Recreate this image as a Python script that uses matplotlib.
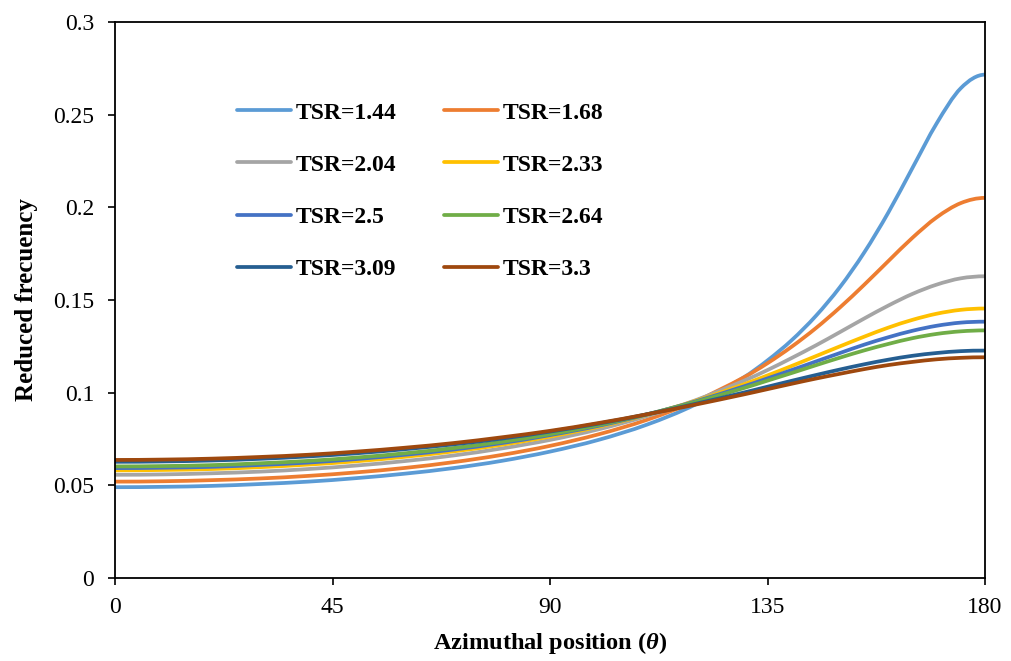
import numpy as np
import matplotlib
matplotlib.use("Agg")
import matplotlib.pyplot as plt
from matplotlib.path import Path
from matplotlib.patches import PathPatch
from matplotlib.lines import Line2D

plt.rcParams["font.family"] = ["Liberation Serif", "DejaVu Serif"]
plt.rcParams["mathtext.fontset"] = "custom"
plt.rcParams["mathtext.rm"] = "Liberation Serif"
plt.rcParams["mathtext.it"] = "Liberation Serif:italic"
plt.rcParams["mathtext.bf"] = "Liberation Serif:bold"
plt.rcParams["mathtext.bfit"] = "Liberation Serif:italic:bold"

# azimuthal positions (deg)
theta = [0, 10, 20, 30, 40, 50, 60, 70, 80, 90, 100, 110, 120, 130,
         135, 140, 145, 150, 155, 160, 165, 170, 175, 180]

# reduced frequency for each tip speed ratio
k_144 = [0.0490, 0.0492, 0.0497, 0.0507, 0.0520, 0.0539, 0.0563, 0.0593, 0.0632, 0.0682,
         0.0745, 0.0827, 0.0935, 0.1081, 0.1174, 0.1283, 0.1414, 0.1570, 0.1756, 0.1972,
         0.2213, 0.2453, 0.2643, 0.2716]
k_168 = [0.0520, 0.0522, 0.0528, 0.0537, 0.0551, 0.0570, 0.0594, 0.0625, 0.0664, 0.0713,
         0.0775, 0.0853, 0.0953, 0.1081, 0.1159, 0.1248, 0.1348, 0.1460, 0.1582, 0.1710,
         0.1836, 0.1946, 0.2023, 0.2051]
k_204 = [0.0557, 0.0559, 0.0565, 0.0574, 0.0588, 0.0607, 0.0631, 0.0661, 0.0699, 0.0745,
         0.0802, 0.0873, 0.0958, 0.1063, 0.1122, 0.1187, 0.1255, 0.1327, 0.1400, 0.1470,
         0.1533, 0.1583, 0.1617, 0.1628]
k_233 = [0.0581, 0.0583, 0.0588, 0.0598, 0.0612, 0.0630, 0.0654, 0.0683, 0.0719, 0.0763,
         0.0816, 0.0880, 0.0955, 0.1044, 0.1093, 0.1144, 0.1197, 0.1250, 0.1302, 0.1351,
         0.1393, 0.1426, 0.1447, 0.1454]
k_250 = [0.0593, 0.0595, 0.0600, 0.0610, 0.0623, 0.0642, 0.0665, 0.0693, 0.0728, 0.0771,
         0.0821, 0.0882, 0.0952, 0.1033, 0.1077, 0.1122, 0.1168, 0.1214, 0.1259, 0.1299,
         0.1334, 0.1361, 0.1378, 0.1383]
k_264 = [0.0602, 0.0604, 0.0609, 0.0619, 0.0632, 0.0650, 0.0673, 0.0701, 0.0735, 0.0776,
         0.0825, 0.0883, 0.0949, 0.1024, 0.1065, 0.1106, 0.1148, 0.1189, 0.1228, 0.1263,
         0.1294, 0.1317, 0.1331, 0.1336]
k_309 = [0.0627, 0.0629, 0.0634, 0.0643, 0.0656, 0.0673, 0.0695, 0.0721, 0.0752, 0.0790,
         0.0833, 0.0883, 0.0939, 0.1000, 0.1032, 0.1064, 0.1095, 0.1125, 0.1153, 0.1178,
         0.1199, 0.1214, 0.1224, 0.1227]
k_330 = [0.0637, 0.0639, 0.0644, 0.0653, 0.0665, 0.0682, 0.0703, 0.0728, 0.0759, 0.0794,
         0.0836, 0.0883, 0.0935, 0.0990, 0.1019, 0.1048, 0.1076, 0.1102, 0.1127, 0.1149,
         0.1166, 0.1180, 0.1188, 0.1191]

labels = ["TSR=1.44", "TSR=1.68", "TSR=2.04", "TSR=2.33",
          "TSR=2.5", "TSR=2.64", "TSR=3.09", "TSR=3.3"]
series = [k_144, k_168, k_204, k_233, k_250, k_264, k_309, k_330]
colors = ["#5B9BD5", "#ED7D31", "#A5A5A5", "#FFC000",
          "#4472C4", "#70AD47", "#255E91", "#9E480E"]
LW = 2.7


def smooth_path(x, y):
    """Bezier path through the points; flat at both ends (0 and 180 deg are extrema)."""
    x = np.asarray(x, float)
    y = np.asarray(y, float)
    m = np.zeros_like(y)
    m[1:-1] = (y[2:] - y[:-2]) / (x[2:] - x[:-2])
    verts = [(x[0], y[0])]
    codes = [Path.MOVETO]
    for i in range(len(x) - 1):
        h = (x[i + 1] - x[i]) / 3
        verts += [(x[i] + h, y[i] + m[i] * h),
                  (x[i + 1] - h, y[i + 1] - m[i + 1] * h),
                  (x[i + 1], y[i + 1])]
        codes += [Path.CURVE4] * 3
    return Path(verts, codes)


fig = plt.figure(figsize=(10.11, 6.61), dpi=100)
ax = fig.add_axes([115 / 1011, 1 - 578 / 661, 870 / 1011, 556 / 661])

handles = []
for k, c, lab in zip(series, colors, labels):
    ax.add_patch(PathPatch(smooth_path(theta, k), facecolor="none", edgecolor=c,
                           lw=LW, capstyle="round", joinstyle="round"))
    handles.append(Line2D([], [], color=c, lw=LW, solid_capstyle="round"))

ax.set_xlim(0, 180)
ax.set_ylim(0, 0.3)
ax.set_xticks([0, 45, 90, 135, 180])
ax.set_yticks([0, 0.05, 0.1, 0.15, 0.2, 0.25, 0.3])
ax.set_yticklabels(["0", "0.05", "0.1", "0.15", "0.2", "0.25", "0.3"])
ax.tick_params(axis="both", direction="out", length=5, width=1.2,
               labelsize=17, color="black")
ax.tick_params(axis="y", pad=10)
ax.tick_params(axis="x", pad=9)
for s in ax.spines.values():
    s.set_linewidth(1.3)
    s.set_color("black")

ax.set_xlabel(r"Azimuthal position ($\mathbfit{\theta}$)", fontsize=17.6,
              fontweight="bold", labelpad=8)
ax.set_ylabel("Reduced frecuency", fontsize=18, fontweight="bold", labelpad=11)

# legend in two columns, filled row by row
order = [0, 2, 4, 6, 1, 3, 5, 7]
leg = ax.legend([handles[i] for i in order], [labels[i] for i in order],
                ncol=2, loc="upper left", bbox_to_anchor=(237 / 1011, 1 - 102 / 661),
                bbox_transform=fig.transFigure, frameon=False,
                prop={"weight": "bold", "size": 17}, borderpad=0, borderaxespad=0,
                handlelength=2.3, handletextpad=0.2, columnspacing=2.0,
                labelspacing=1.3)

fig.savefig("out.png", dpi=100)
